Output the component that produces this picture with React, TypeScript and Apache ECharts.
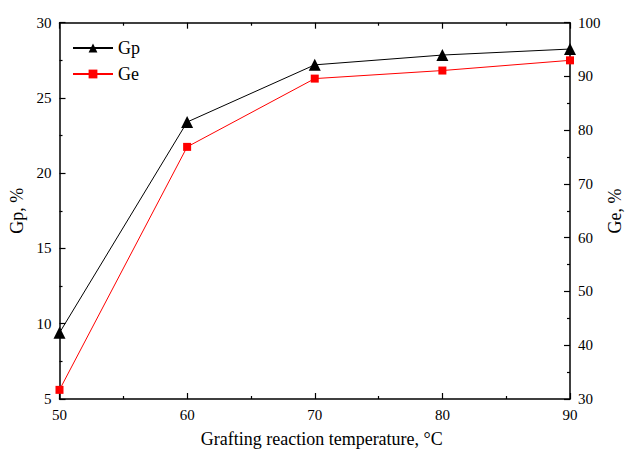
import React, { useEffect, useRef } from "react";
import * as echarts from "echarts";

const temperatures = [50, 60, 70, 80, 90];
const gpValues = [9.4, 23.4, 27.2, 27.85, 28.25];
const geValues = [31.7, 76.9, 89.6, 91.1, 93.0];
const rightAxisName = "Ge, %";

const FONT = "'Liberation Serif', 'Times New Roman', serif";

export default function App() {
  const ref = useRef<HTMLDivElement>(null);
  useEffect(() => {
    if (!ref.current) return;
    const chart = echarts.init(ref.current, null, { renderer: "svg" });
    const axisLine = { show: true, lineStyle: { color: "#000", width: 1.5 } };
    const tick = { show: true, inside: true, length: 6, lineStyle: { color: "#000", width: 1.2 } };
    const minor = { show: true, splitNumber: 2, length: 3, lineStyle: { color: "#000", width: 1.2 } };
    const label = { color: "#000", fontFamily: FONT, fontSize: 15 };
    const nameStyle = { fontFamily: FONT, fontSize: 18, color: "#000" };
    chart.setOption({
      animation: false,
      backgroundColor: "#fff",
      textStyle: { fontFamily: FONT },
      grid: { left: 59.5, right: 55, top: 22.7, bottom: 52, containLabel: false, outerBoundsMode: "none" },
      legend: {
        left: 67,
        top: 34,
        orient: "vertical",
        itemGap: 8,
        itemWidth: 40,
        itemHeight: 11,
        textStyle: { fontFamily: FONT, fontSize: 18, color: "#000" },
        data: ["Gp", "Ge"],
      },
      graphic: [
        {
          type: "text",
          x: 615,
          y: 211,
          rotation: Math.PI / 2,
          style: {
            text: rightAxisName,
            font: `18px ${FONT}`,
            fill: "#000",
            textAlign: "center",
            textVerticalAlign: "middle",
          },
        },
      ],
      xAxis: [
        {
          type: "value",
          min: 50,
          max: 90,
          interval: 10,
          position: "bottom",
          axisLine,
          axisTick: tick,
          minorTick: minor,
          splitLine: { show: false },
          axisLabel: { ...label, margin: 8 },
          name: "Grafting reaction temperature, °C",
          nameLocation: "middle",
          nameGap: 31,
          nameTextStyle: { ...nameStyle, padding: [0, 0, 0, 14] },
        },
        {
          type: "value",
          min: 50,
          max: 90,
          interval: 10,
          position: "top",
          axisLine,
          axisTick: tick,
          minorTick: minor,
          splitLine: { show: false },
          axisLabel: { show: false },
        },
      ],
      yAxis: [
        {
          type: "value",
          min: 5,
          max: 30,
          interval: 5,
          position: "left",
          axisLine,
          axisTick: tick,
          minorTick: minor,
          splitLine: { show: false },
          axisLabel: { ...label, margin: 8 },
          name: "Gp, %",
          nameLocation: "middle",
          nameGap: 32,
          nameTextStyle: nameStyle,
        },
        {
          type: "value",
          min: 30,
          max: 100,
          interval: 10,
          position: "right",
          axisLine,
          axisTick: tick,
          minorTick: minor,
          splitLine: { show: false },
          axisLabel: { ...label, margin: 8 },
        },
      ],
      series: [
        {
          name: "Gp",
          type: "line",
          xAxisIndex: 0,
          yAxisIndex: 0,
          data: temperatures.map((t, i) => [t, gpValues[i]]),
          symbol: "triangle",
          symbolSize: 12,
          lineStyle: { color: "#000", width: 1 },
          itemStyle: { color: "#000" },
          clip: false,
          z: 3,
        },
        {
          name: "Ge",
          type: "line",
          xAxisIndex: 0,
          yAxisIndex: 1,
          data: temperatures.map((t, i) => [t, geValues[i]]),
          symbol: "rect",
          symbolSize: 8,
          lineStyle: { color: "#ff0000", width: 1 },
          itemStyle: { color: "#ff0000" },
          clip: false,
          z: 2,
        },
      ],
    });
    return () => chart.dispose();
  }, []);
  return <div ref={ref} style={{ width: 625, height: 451, position: "absolute", left: 0, top: 0 }} />;
}
